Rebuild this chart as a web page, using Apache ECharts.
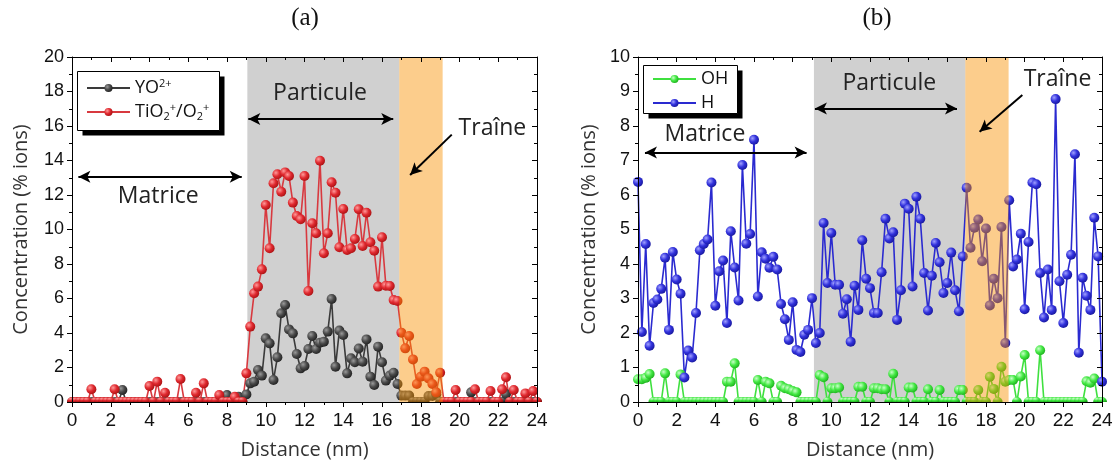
<!DOCTYPE html>
<html>
<head>
<meta charset="utf-8">
<script src="https://cdn.jsdelivr.net/npm/echarts@6/dist/echarts.min.js"></script>
<style>
html,body{margin:0;padding:0;background:#fff;}
#chart{width:1116px;height:466px;}
</style>
</head>
<body>
<div id="chart"></div>
<script>
// ---------- data ----------
const STEP_NM = 0.2;          // sampling step of the profiles (nm)
const N_POINTS = 121;         // 0 ... 24 nm
const distance = [];
for (let i = 0; i < N_POINTS; i++) distance.push(+(i * STEP_NM).toFixed(1));

// (a) YO2+ (black)
const yo = [
 0,0,0,0,0,0,0,0,0,0, 0,0,0,0.7,0,0,0,0,0,0,
 0,0,0,0,0,0,0,0,0,0, 0,0,0,0,0,0,0,0,0,0,
 0.4,0,0,0.3,0,0.44,1.08,1.18,1.86,1.53, 3.69,3.40,1.28,2.59,5.14,5.62,4.21,3.98,2.78,1.95,
 2.09,3.07,3.83,3.07,3.44,3.50,4.08,5.97,2.05,4.14, 3.88,1.66,2.53,2.3,3.1,2.34,3.63,1.47,0.99,3.21,
 2.30,1.24,1.53,1.70,1.04,0.37,0.37,0.37,0,0, 0,0,0.35,0.35,0.45,0,0,0,0,0,
 0,0,0,0.56,0,0,0,0,0,0, 0,0,0.46,0,0,0,0,0,0,0,
 0
];
// (a) TiO2+/O2+ (red)
const tio = [
 0,0,0,0,0,0.74,0,0,0,0, 0,0.74,0,0,0,0,0,0,0,0,
 0.93,0,1.18,0,0.54,0,0,0,1.33,0, 0,0,0.54,0,1.08,0,0,0,0.41,0,
 0,0,0.3,0,0,1.66,4.37,6.30,6.69,7.69, 11.42,8.91,12.68,13.2,12.19,13.31,13.1,11.56,10.78,10.59,
 13.1,6.43,10.36,9.78,13.99,8.62,9.78,12.74,12.13,8.97, 11.19,8.81,8.91,9.45,11.17,9.04,10.97,9.26,8.77,6.69,
 9.55,6.74,6.72,5.91,5.86,4.02,3.11,3.83,2.47,1.04, 1.47,1.76,1.37,1.04,0.56,1.70,0,0,0,0.70,
 0,0,0,0,0.74,0,0,0,0.64,0, 0,0.74,1.43,0,0.70,0,0,0.5,0,0.64,
 0
];
// (b) OH (green)
const oh = [
 0.66,0.66,0.7,0.81,0,0,0,0.83,0,0, 0,0.8,0,0,0,0,0,0,0,0,
 0,0,0,0.59,0.59,1.12,0,0,0,0, 0,0.64,0,0.59,0.54,0,0,0.47,0.4,0.37,
 0.32,0.28,0,0,0,0,0,0.78,0.72,0, 0.40,0.40,0.42,0,0,0,0,0.44,0.44,0,
 0,0.40,0.40,0.37,0.37,0,0.82,0,0,0, 0.42,0.42,0,0,0,0.37,0,0,0.35,0,
 0,0,0,0.35,0.35,0,0,0,0.35,0, 0,0.73,0.38,0,1.02,0.59,0.64,0.64,0,0.74,
 1.36,0,0,0,1.50,0,0,0,0,0, 0,0,0,0,0,0,0.6,0.56,0.68,0,
 0
];
// (b) H (blue)
const h = [
 6.38,2.03,4.58,1.63,2.87,2.97,3.28,4.18,2.09,4.35, 3.55,3.14,0.71,1.49,1.29,2.58,4.40,4.58,4.71,6.36,
 2.79,3.79,4.10,2.29,4.95,3.90,2.94,6.87,4.59,4.87, 7.60,3.06,4.34,4.15,3.89,4.21,3.84,2.84,2.40,1.80,
 2.89,1.51,1.45,1.95,2.09,3.01,1.71,2.0,5.19,3.45, 4.90,3.40,3.40,2.56,2.98,1.75,3.37,2.67,4.69,3.57,
 3.30,2.58,2.58,3.76,5.31,4.74,4.92,2.38,3.24,5.75, 5.60,3.35,5.95,5.31,3.74,2.65,3.66,4.61,4.05,3.16,
 3.45,4.33,3.24,2.63,4.22,6.21,4.47,5.05,5.29,4.08, 5.03,2.80,3.57,3.01,5.07,1.71,5.85,3.93,4.13,4.88,
 2.69,4.64,6.36,6.31,3.74,2.45,3.84,2.67,8.78,3.50, 2.29,3.69,4.27,7.18,1.43,3.60,3.08,2.67,5.34,4.22,
 0.59
];
const xTicks = [0,2,4,6,8,10,12,14,16,18,20,22,24];

// regions [start, end] in nm
const regionsA = { particule:[9.05,16.89], traine:[16.89,19.13] };
const regionsB = { particule:[9.1,16.93], traine:[16.93,19.17] };

// ---------- helpers ----------
function ball(c1,c2,c3){
  return {type:'radial',x:0.35,y:0.35,r:0.8,colorStops:[
    {offset:0,color:c1},{offset:0.45,color:c2},{offset:1,color:c3}]};
}
const HALF = 'path://M0,10A10,10 0 0 1 20,10Z';
function pts(vals){
  return distance.map((x,i)=> vals[i]===0
    ? {value:[x,0],symbol:HALF,symbolSize:[10,5],symbolOffset:[0,-2.5]}
    : {value:[x,vals[i]]});
}
const FONT = 'Open Sans';
const NUMFONT = 'Liberation Sans';

function xAxisPair(grid){
  const base = {type:'value',min:0,max:24,interval:2,gridIndex:grid,z:12,
    splitLine:{show:false},
    axisLine:{show:true,onZero:false,lineStyle:{color:'#000',width:1}}};
  return [
    Object.assign({},base,{position:'bottom',
      name:'Distance (nm)',nameLocation:'middle',nameGap:38,
      nameTextStyle:{fontFamily:FONT,fontSize:20,color:'#333'},
      axisTick:{show:true,inside:false,length:5,lineStyle:{color:'#000'}},
      minorTick:{show:true,splitNumber:2,length:3,lineStyle:{color:'#000'}},
      axisLabel:{fontFamily:NUMFONT,fontSize:19,color:'#111',margin:9,
        formatter:v=> xTicks.indexOf(v)>=0 ? String(v) : ''}}),
    Object.assign({},base,{position:'top',
      axisTick:{show:true,inside:true,length:5,lineStyle:{color:'#000'}},
      minorTick:{show:true,splitNumber:2,length:3,lineStyle:{color:'#000'}},
      axisLabel:{show:false}})
  ];
}
function yAxisPair(grid,max,interval,gap){
  const base = {type:'value',min:0,max:max,interval:interval,gridIndex:grid,z:12,
    splitLine:{show:false},
    axisLine:{show:true,onZero:false,lineStyle:{color:'#000',width:1}}};
  return [
    Object.assign({},base,{position:'left',
      name:'Concentration (% ions)',nameLocation:'middle',nameGap:gap,
      nameTextStyle:{fontFamily:FONT,fontSize:20,color:'#333'},
      axisTick:{show:true,inside:false,length:5,lineStyle:{color:'#000'}},
      minorTick:{show:true,splitNumber:2,length:3,lineStyle:{color:'#000'}},
      axisLabel:{fontFamily:NUMFONT,fontSize:18,color:'#111',margin:8}}),
    Object.assign({},base,{position:'right',
      axisTick:{show:true,inside:true,length:5,lineStyle:{color:'#000'}},
      minorTick:{show:true,splitNumber:2,length:3,lineStyle:{color:'#000'}},
      axisLabel:{show:false}})
  ];
}
function lineSeries(name,vals,xi,yi,lineColor,c1,c2,c3){
  return {name:name,type:'line',xAxisIndex:xi,yAxisIndex:yi,data:pts(vals),
    symbol:'circle',symbolSize:10,showAllSymbol:true,z:3,
    lineStyle:{color:lineColor,width:1.6},
    itemStyle:{color:ball(c1,c2,c3)},
    emphasis:{disabled:true}};
}
const annText = {show:true,position:'inside',formatter:'{b}',fontFamily:FONT,fontSize:23,color:'#222'};
function bands(xi,yi,reg,arrows,texts){
  return [
    {type:'line',xAxisIndex:xi,yAxisIndex:yi,data:[],z:1,silent:true,
      markArea:{silent:true,z:1,itemStyle:{color:'#d0d0d0'},
        data:[[{xAxis:reg.particule[0]},{xAxis:reg.particule[1]}]]}},
    {type:'line',xAxisIndex:xi,yAxisIndex:yi,data:[],z:10,silent:true,
      markArea:{silent:true,z:10,itemStyle:{color:'rgba(249,145,0,0.45)'},
        data:[[{xAxis:reg.traine[0]},{xAxis:reg.traine[1]}]]},
      markLine:{silent:true,z:11,symbolSize:[9,12],label:{show:false},
        lineStyle:{color:'#000',width:2,type:'solid'},
        data:arrows.map(a=>[{coord:a.from,symbol:a.both?'arrow':'none'},{coord:a.to,symbol:'arrow'}])},
      markPoint:{silent:true,z:11,symbol:'circle',symbolSize:1,itemStyle:{color:'rgba(0,0,0,0)'},
        label:annText,
        data:texts.map(t=>({name:t.text,coord:t.at}))}}
  ];
}

const chart = echarts.init(document.getElementById('chart'),null,{renderer:'canvas'});
const legendRich = {
  sup:{fontSize:11,fontFamily:FONT,verticalAlign:'top',lineHeight:12,color:'#111'},
  sub:{fontSize:11,fontFamily:FONT,verticalAlign:'bottom',lineHeight:12,color:'#111'}
};
const legendNames = {'YO2+':'YO{sup|2+}','TiO2+/O2+':'TiO{sub|2}{sup|+}/O{sub|2}{sup|+}','OH':'OH','H':'H'};
const legendBase = {orient:'vertical',itemWidth:43,itemHeight:10,itemGap:4,z:8,
  formatter:n=>legendNames[n],
  textStyle:{fontFamily:FONT,fontSize:18,color:'#111',lineHeight:20,rich:legendRich}};

function legendFrame(x,y,w,hgt){
  return [
    {type:'rect',z:6,silent:true,shape:{x:x+5,y:y+5,width:w,height:hgt},style:{fill:'#000'}},
    {type:'rect',z:7,silent:true,shape:{x:x,y:y,width:w,height:hgt},style:{fill:'#fff',stroke:'#000',lineWidth:1}}
  ];
}

const option = {
  animation:false,
  backgroundColor:'#fff',
  graphic:[
    {type:'text',x:305,y:6,style:{text:'(a)',font:'25px "Liberation Serif"',fill:'#111',textAlign:'center'}},
    {type:'text',x:877,y:6,style:{text:'(b)',font:'25px "Liberation Serif"',fill:'#111',textAlign:'center'}},
    ...legendFrame(77.5,71.5,142,59),
    ...legendFrame(643.5,65.5,94,48)
  ],
  grid:[
    {left:72,top:57,width:465,height:345},
    {left:638,top:57,width:464,height:345}
  ],
  xAxis:[...xAxisPair(0),...xAxisPair(1)],
  yAxis:[...yAxisPair(0,20,2,41),...yAxisPair(1,10,1,39)],
  legend:[
    Object.assign({},legendBase,{left:77,top:71,padding:[7,10,6,9],data:['YO2+','TiO2+/O2+']}),
    Object.assign({},legendBase,{left:643,top:65,padding:[4,10,4,9],data:['OH','H']})
  ],
  series:[
    lineSeries('YO2+',yo,0,0,'#3a3a3a','#9a9a9a','#4a4a4a','#141414'),
    lineSeries('TiO2+/O2+',tio,0,0,'#d8393f','#ff9a9a','#e02a30','#9a0a0a'),
    lineSeries('OH',oh,2,2,'#3fe03f','#c8ffc8','#44e844','#12a012'),
    lineSeries('H',h,2,2,'#2a2ad0','#a0a0ff','#3232dc','#10108a'),
    ...bands(0,0,regionsA,
      [{from:[0.33,13.06],to:[8.76,13.06],both:true},
       {from:[9.1,16.4],to:[16.58,16.4],both:true},
       {from:[19.6,15.5],to:[17.45,13.16],both:false}],
      [{text:'Matrice',at:[4.45,11.94]},
       {text:'Particule',at:[12.8,17.86]},
       {text:'Traîne',at:[21.7,15.86]}]),
    ...bands(2,2,regionsB,
      [{from:[0.36,7.23],to:[8.72,7.23],both:true},
       {from:[9.15,8.51],to:[16.5,8.51],both:true},
       {from:[19.88,8.9],to:[17.67,7.83],both:false}],
      [{text:'Matrice',at:[3.46,7.76]},
       {text:'Particule',at:[13.0,9.24]},
       {text:'Traîne',at:[21.7,9.36]}])
  ]
};
chart.setOption(option);
</script>
</body>
</html>
